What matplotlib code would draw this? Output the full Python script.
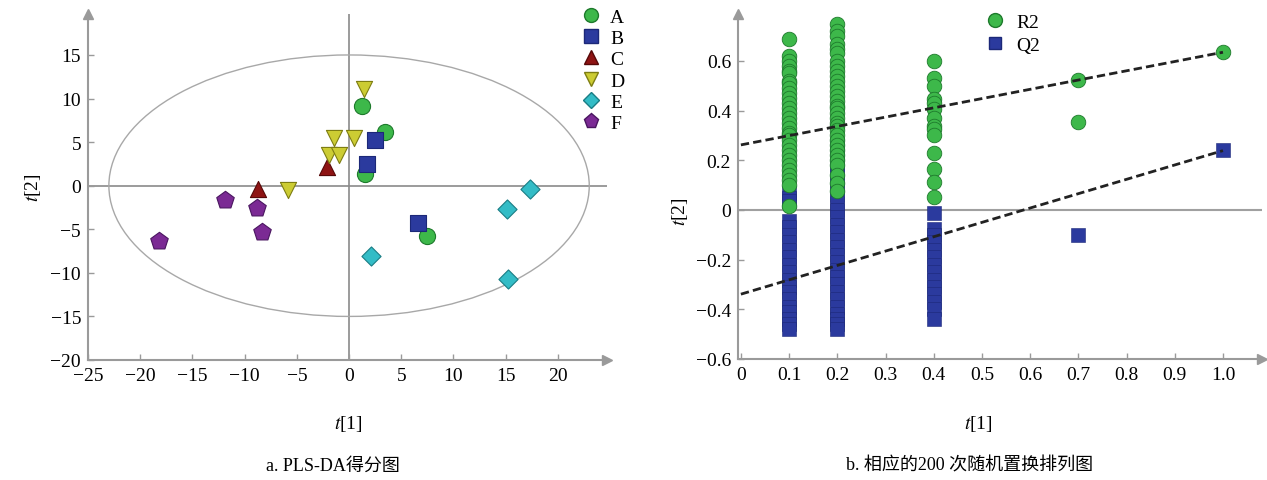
import numpy as np
import matplotlib
matplotlib.use("Agg")
import matplotlib.pyplot as plt
from matplotlib.patches import Ellipse
from matplotlib.lines import Line2D

plt.rcParams['font.family'] = ['Liberation Serif', 'Noto Sans CJK SC']
plt.rcParams['mathtext.fontset'] = 'stix'

# ---- panel a: PLS-DA scores ----
groups = ['A', 'B', 'C', 'D', 'E', 'F']
score_t1 = {
    'A': [1.2, 3.45, 1.5, 7.45],
    'B': [2.5, 1.7, 6.6],
    'C': [-2.1, -8.7],
    'D': [1.4, -1.4, 0.5, -1.9, -1.0, -5.8],
    'E': [17.3, 15.1, 2.1, 15.2],
    'F': [-11.9, -8.8, -8.3, -18.2],
}
score_t2 = {
    'A': [9.2, 6.2, 1.3, -5.8],
    'B': [5.3, 2.5, -4.3],
    'C': [2.2, -0.4],
    'D': [11.1, 5.5, 5.5, 3.5, 3.5, -0.5],
    'E': [-0.4, -2.7, -8.1, -10.7],
    'F': [-1.6, -2.6, -5.3, -6.3],
}
ellipse_half_axes = (23.0, 15.0)

# ---- panel b: permutation test (200 permutations) ----
r2_x = [0.1] * 30 + [0.2] * 32 + [0.4] * 14 + [0.7, 0.7, 1.0]
r2_y = [0.69, 0.62, 0.60, 0.58, 0.56, 0.55, 0.52, 0.51, 0.49, 0.47, 0.45, 0.43,
        0.41, 0.39, 0.37, 0.35, 0.33, 0.31, 0.30, 0.28, 0.26, 0.24, 0.22, 0.20,
        0.18, 0.16, 0.14, 0.12, 0.10, 0.015,
        0.75, 0.72, 0.70, 0.67, 0.65, 0.63, 0.60, 0.58, 0.56, 0.54, 0.52, 0.50,
        0.48, 0.46, 0.44, 0.42, 0.41, 0.39, 0.37, 0.35, 0.34, 0.32, 0.30, 0.28,
        0.26, 0.24, 0.22, 0.20, 0.18, 0.14, 0.11, 0.075,
        0.60, 0.53, 0.50, 0.445, 0.43, 0.405, 0.37, 0.34, 0.325, 0.30, 0.23,
        0.166, 0.113, 0.053,
        0.525, 0.355, 0.635]
q2_x = [0.1] * 20 + [0.2] * 27 + [0.4] * 14 + [0.7, 1.0]
q2_y = [0.07, 0.05, 0.035, -0.045, -0.07, -0.10, -0.13, -0.16, -0.19, -0.22,
        -0.25, -0.28, -0.31, -0.33, -0.36, -0.39, -0.41, -0.44, -0.46, -0.48,
        0.26, 0.24, 0.21, 0.18, 0.15, 0.12, 0.09, 0.06, 0.03, 0.0, -0.03, -0.06,
        -0.09, -0.12, -0.15, -0.18, -0.21, -0.24, -0.27, -0.30, -0.33, -0.36,
        -0.39, -0.42, -0.44, -0.46, -0.48,
        -0.013, -0.075, -0.10, -0.13, -0.16, -0.19, -0.22, -0.25, -0.28, -0.31,
        -0.34, -0.37, -0.40, -0.44,
        -0.10, 0.24]
r2_line = ([0.0, 1.0], [0.262, 0.635])
q2_line = ([0.0, 1.0], [-0.339, 0.239])

styles = {
    'A': ('o', '#3db84a', '#1e7a2c'),
    'B': ('s', '#2b3a9e', '#1c2878'),
    'C': ('^', '#8e1414', '#560808'),
    'D': ('v', '#cccc33', '#7d7d12'),
    'E': ('D', '#33bcc6', '#1a7d85'),
    'F': ('p', '#7b2a94', '#4a1660'),
}
marker_area = {'o': 135, 's': 135, '^': 135, 'v': 135, 'D': 95, 'p': 175}
AXIS_GREY = '#9a9a9a'


def style_axes(ax):
    for side in ('top', 'right'):
        ax.spines[side].set_visible(False)
    for side in ('left', 'bottom'):
        ax.spines[side].set_color(AXIS_GREY)
        ax.spines[side].set_linewidth(1.5)
    ax.tick_params(direction='in', length=4, width=1, color=AXIS_GREY,
                   labelsize=14, pad=5)
    ax.plot(0, 1, '^', color=AXIS_GREY, markersize=7, transform=ax.transAxes, clip_on=False)
    ax.plot(1, 0, '>', color=AXIS_GREY, markersize=7, transform=ax.transAxes, clip_on=False)


fig = plt.figure(figsize=(12.67, 4.81), dpi=100)

# panel a
ax1 = fig.add_axes([88 / 1267, 1 - 361 / 481, (607 - 88) / 1267, (361 - 15) / 481])
ax1.set_xlim(-25, 24.7)
ax1.set_ylim(-20, 19.7)
style_axes(ax1)
ax1.axhline(0, color='#8a8a8a', lw=1.2, zorder=1)
ax1.axvline(0, color='#8a8a8a', lw=1.2, zorder=1)
ax1.add_patch(Ellipse((0, 0), 2 * ellipse_half_axes[0], 2 * ellipse_half_axes[1],
                      fill=False, edgecolor='#a8a8a8', lw=1.0, zorder=1))
for g in groups:
    m, fc, ec = styles[g]
    ax1.scatter(score_t1[g], score_t2[g], marker=m, s=marker_area[m],
                facecolor=fc, edgecolor=ec, linewidth=0.8, zorder=3)
ax1.set_xticks(np.arange(-25, 21, 5))
ax1.set_yticks(np.arange(-20, 16, 5))
ax1.set_xticklabels([str(v).replace('-', '\u2212') for v in range(-25, 21, 5)])
ax1.set_yticklabels([str(v).replace('-', '\u2212') for v in range(-20, 16, 5)])

handles_a = [Line2D([], [], ls='none', marker=styles[g][0],
                    markersize={'D': 8, 'p': 11}.get(styles[g][0], 10),
                    markerfacecolor=styles[g][1], markeredgecolor=styles[g][2]) for g in groups]
fig.legend(handles_a, groups, loc='upper left', bbox_to_anchor=(581 / 1267, 1 - 9 / 481),
           frameon=False, fontsize=14, handlelength=1.0, handletextpad=0.5,
           labelspacing=0.19, borderpad=0, borderaxespad=0)

fig.text(33 / 1267, 1 - 188 / 481, r'$t$[2]', rotation=90, ha='center', va='center', fontsize=14)
fig.text(348 / 1267, 1 - 424 / 481, r'$t$[1]', ha='center', va='center', fontsize=14)
fig.text(333 / 1267, 1 - 466 / 481, 'a. PLS-DA得分图', ha='center', va='center', fontsize=13)

# panel b
ax2 = fig.add_axes([738 / 1267, 1 - 360 / 481, (1262 - 738) / 1267, (360 - 15) / 481])
ax2.set_xlim(-0.006, 1.081)
ax2.set_ylim(-0.6, 0.789)
style_axes(ax2)
ax2.axhline(0, color='#a0a0a0', lw=1.5, zorder=1)
ax2.scatter(q2_x, q2_y, marker='s', s=90, facecolor=styles['B'][1],
            edgecolor=styles['B'][2], linewidth=0.4, zorder=2)
ax2.scatter(r2_x, r2_y, marker='o', s=110, facecolor=styles['A'][1],
            edgecolor=styles['A'][2], linewidth=0.6, zorder=3)
ax2.plot(*r2_line, ls='--', color='#222222', lw=2, dashes=(3, 1.5), zorder=4)
ax2.plot(*q2_line, ls='--', color='#222222', lw=2, dashes=(3, 1.5), zorder=4)
ax2.set_xticks(np.round(np.arange(0, 1.01, 0.1), 1))
ax2.set_xticklabels(['0'] + ['%.1f' % v for v in np.arange(0.1, 1.01, 0.1)])
ax2.set_yticks(np.round(np.arange(-0.6, 0.61, 0.2), 1))
ax2.set_yticklabels([('%.1f' % v).replace('-', '\u2212') if abs(v) > 1e-9 else '0'
                     for v in np.arange(-0.6, 0.61, 0.2)])

handles_b = [Line2D([], [], ls='none', marker='o', markersize=10,
                    markerfacecolor=styles['A'][1], markeredgecolor=styles['A'][2]),
             Line2D([], [], ls='none', marker='s', markersize=9,
                    markerfacecolor=styles['B'][1], markeredgecolor=styles['B'][2])]
fig.legend(handles_b, ['R2', 'Q2'], loc='upper left', bbox_to_anchor=(985 / 1267, 1 - 14 / 481),
           frameon=False, fontsize=14, handlelength=1.0, handletextpad=0.6,
           labelspacing=0.3, borderpad=0, borderaxespad=0)

fig.text(680 / 1267, 1 - 212 / 481, r'$t$[2]', rotation=90, ha='center', va='center', fontsize=14)
fig.text(978 / 1267, 1 - 424 / 481, r'$t$[1]', ha='center', va='center', fontsize=14)
fig.text(970 / 1267, 1 - 466 / 481, 'b. 相应的200 次随机置换排列图', ha='center', va='center', fontsize=13)

fig.savefig('out.png', dpi=100, facecolor='white')
